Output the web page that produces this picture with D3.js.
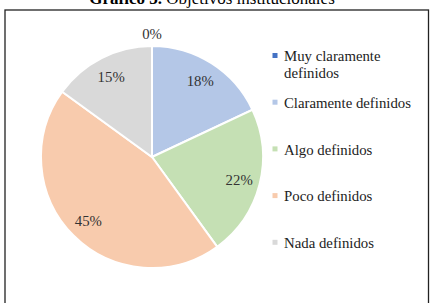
<!DOCTYPE html>
<html>
<head>
<meta charset="utf-8">
<script src="https://cdn.jsdelivr.net/npm/d3@7"></script>
<style>
  body { margin: 0; background: #fff; }
  svg { display: block; font-family: "Liberation Serif", "Times New Roman", serif; }
</style>
</head>
<body>
<svg id="chart" width="434" height="303"></svg>
<script>
var categories = ['Muy claramente definidos', 'Claramente definidos', 'Algo definidos', 'Poco definidos', 'Nada definidos'];
var legendLines = [['Muy claramente', 'definidos'], ['Claramente definidos'], ['Algo definidos'], ['Poco definidos'], ['Nada definidos']];
var values = [0, 18, 22, 45, 15];
var colors = ['#4472C4', '#B4C7E7', '#C5E0B4', '#F8CBAD', '#D9D9D9'];

var svg = d3.select('#chart');

// frame
svg.append('rect')
    .attr('x', 5).attr('y', 10)
    .attr('width', 423.5).attr('height', 310)
    .attr('fill', 'none')
    .attr('stroke', '#222')
    .attr('stroke-width', 1.3);

// title (cropped at the top in the original)
var title = svg.append('text')
    .attr('x', 212).attr('y', 4)
    .attr('text-anchor', 'middle')
    .attr('font-size', 17)
    .attr('fill', '#000');
title.append('tspan').attr('font-weight', 'bold').text('Gráfico 3.');
title.append('tspan').text(' Objetivos institucionales');

var cx = 152, cy = 157, r = 111;
var g = svg.append('g').attr('transform', 'translate(' + cx + ',' + cy + ')');

var pie = d3.pie().sort(null).value(function(d) { return d; });
var arcs = pie(values);
var arc = d3.arc().innerRadius(0).outerRadius(r);
var labelArc = d3.arc().innerRadius(90).outerRadius(90);
var outerArc = d3.arc().innerRadius(r + 12).outerRadius(r + 12);

g.selectAll('path.slice')
    .data(arcs)
    .enter().append('path')
    .attr('class', 'slice')
    .attr('d', arc)
    .attr('fill', function(d, i) { return colors[i]; })
    .attr('stroke', '#fff')
    .attr('stroke-width', 2);

g.selectAll('text.lbl')
    .data(arcs)
    .enter().append('text')
    .attr('class', 'lbl')
    .attr('transform', function(d) {
        var c = d.data === 0 ? outerArc.centroid(d) : labelArc.centroid(d);
        return 'translate(' + c[0] + ',' + c[1] + ')';
    })
    .attr('text-anchor', 'middle')
    .attr('dy', '0.35em')
    .attr('font-size', 14.8)
    .attr('fill', '#333')
    .text(function(d) { return d.data + '%'; });

// legend
var legend = svg.append('g').attr('transform', 'translate(275,56)');
var item = legend.selectAll('g.item')
    .data(categories)
    .enter().append('g')
    .attr('class', 'item')
    .attr('transform', function(d, i) { return 'translate(0,' + (i * 46.7) + ')'; });

item.append('rect')
    .attr('x', -2.5).attr('y', -3)
    .attr('width', 5).attr('height', 5)
    .attr('fill', function(d, i) { return colors[i]; });

item.append('text')
    .attr('x', 9)
    .attr('font-size', 14.8)
    .attr('fill', '#222')
    .each(function(d, i) {
        var t = d3.select(this);
        legendLines[i].forEach(function(line, j) {
            t.append('tspan').attr('x', 9).attr('dy', j === 0 ? '0.35em' : 17).text(line);
        });
    });
</script>
</body>
</html>
